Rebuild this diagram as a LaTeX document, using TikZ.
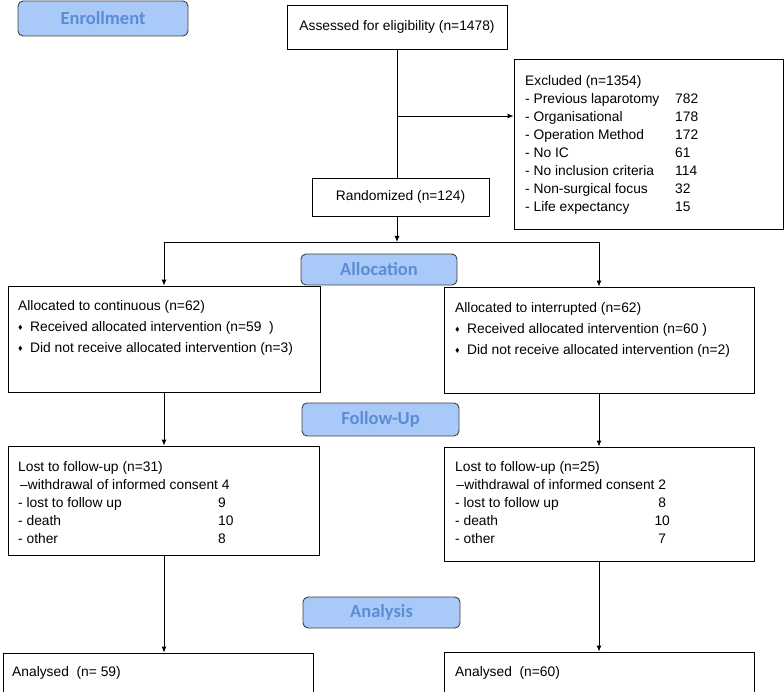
\documentclass[tikz,border=0pt]{standalone}
\usepackage{fontspec}
\usepackage{amssymb}
\setmainfont{Liberation Sans}
\newfontfamily\stagefont{Carlito}
\usetikzlibrary{arrows.meta}

\definecolor{stagefill}{HTML}{A9C9F9}
\definecolor{stagetext}{HTML}{5B8DD4}
\newcommand{\dia}{\makebox[12pt][l]{\raisebox{1.5pt}{\fontsize{6}{6}\selectfont$\blacklozenge$}}}
\newcommand{\row}[3]{\makebox[#1][l]{#2}#3}

\begin{document}
\begin{tikzpicture}[x=1pt,y=-1pt,>={Latex[length=6pt,width=5pt]},
  box/.style={draw,line width=0.9pt,inner sep=0pt,font=\fontsize{13.8}{18}\selectfont},
  txt/.style={inner sep=0pt,align=left,anchor=north west,font=\fontsize{13.8}{18}\selectfont},
  stage/.style={draw=black!75,line width=0.9pt,rounded corners=5pt,fill=stagefill,
    text=stagetext,inner sep=0pt,font=\stagefont\bfseries\fontsize{18.5}{20}\selectfont},
  link/.style={line width=0.9pt}]
  \useasboundingbox (0,0) rectangle (784,692);

  % enrollment
  \node[stage,minimum width=170pt,minimum height=35pt] (enrol) at (103,18.5) {Enrollment};
  \node[box,minimum width=220pt,minimum height=44pt] (assess) at (397,27) {Assessed for eligibility (n=1478)};
  \node[box,minimum width=269pt,minimum height=170pt] (excl) at (648.5,144) {};
  \node[txt] (excltxt) at (525,75) {Excluded (n=1354)\\
    \row{150pt}{- Previous laparotomy}{782}\\
    \row{150pt}{- Organisational}{178}\\
    \row{150pt}{- Operation Method}{172}\\
    \row{150pt}{- No IC}{61}\\
    \row{150pt}{- No inclusion criteria}{114}\\
    \row{150pt}{- Non-surgical focus}{32}\\
    \row{150pt}{- Life expectancy}{15}};
  \node[box,minimum width=177pt,minimum height=38pt] (rand) at (400.5,197) {Randomized (n=124)};

  \coordinate (branch) at (397,116);
  \coordinate (split) at (397,242);
  \draw[link] (assess.south) -- (assess.south |- rand.north);
  \draw[link,->] (branch) -- (branch -| excl.west);
  \draw[link,->] (assess.south |- rand.south) -- (split);

  % allocation
  \node[box,minimum width=312pt,minimum height=106pt] (contbox) at (164,339) {};
  \node[txt,font=\fontsize{13.8}{21}\selectfont] (conttxt) at (18,300) {Allocated to continuous (n=62)\\
    \dia Received allocated intervention (n=59\ \ )\\
    \dia Did not receive allocated intervention (n=3)};
  \node[box,minimum width=310pt,minimum height=106pt] (intbox) at (599,340) {};
  \node[txt,font=\fontsize{13.8}{21}\selectfont] (inttxt) at (455,302) {Allocated to interrupted (n=62)\\
    \dia Received allocated intervention (n=60 )\\
    \dia Did not receive allocated intervention (n=2)};
  \draw[link] (contbox.north |- split) -- (intbox.north |- split);
  \draw[link,->] (contbox.north |- split) -- (contbox.north);
  \draw[link,->] (intbox.north |- split) -- (intbox.north);
  \node[stage,minimum width=156pt,minimum height=31pt] (alloc) at (379,269.5) {Allocation};

  % follow-up
  \node[stage,minimum width=157pt,minimum height=33pt] (follow) at (380.5,419.5) {Follow-Up};
  \node[box,minimum width=311pt,minimum height=109pt] (lostc) at (163.5,500.5) {};
  \node[txt] (lostctxt) at (18,461) {Lost to follow-up (n=31)\\
    \hspace{2pt}--withdrawal of informed consent 4\\
    \row{200pt}{- lost to follow up}{9}\\
    \row{200pt}{- death}{10}\\
    \row{200pt}{- other}{8}};
  \node[box,minimum width=310pt,minimum height=114pt] (losti) at (599,504) {};
  \node[txt] (lostitxt) at (455,461) {Lost to follow-up (n=25)\\
    \hspace{1.5pt}--withdrawal of informed consent 2\\
    \row{200pt}{- lost to follow up}{\makebox[14pt]{8}}\\
    \row{200pt}{- death}{\makebox[14pt]{10}}\\
    \row{200pt}{- other}{\makebox[14pt]{7}}};
  \draw[link,->] (contbox.south) -- (contbox.south |- lostc.north);
  \draw[link,->] (intbox.south) -- (intbox.south |- losti.north);

  % analysis
  \node[stage,minimum width=157pt,minimum height=31pt] (analysis) at (381.5,612.5) {Analysis};
  \node[box,minimum width=310pt,minimum height=47pt] (anac) at (158,676.5) {};
  \node[txt,anchor=west] (anactxt) at (12,673) {Analysed\ \ (n= 59)};
  \node[box,minimum width=310pt,minimum height=48pt] (anai) at (599,676) {};
  \node[txt,anchor=west] (anaitxt) at (455,673) {Analysed\ \ (n=60)};
  \draw[link,->] (lostc.south -| contbox.south) -- (contbox.south |- anac.north);
  \draw[link,->] (losti.south) -- (losti.south |- anai.north);
\end{tikzpicture}
\end{document}
